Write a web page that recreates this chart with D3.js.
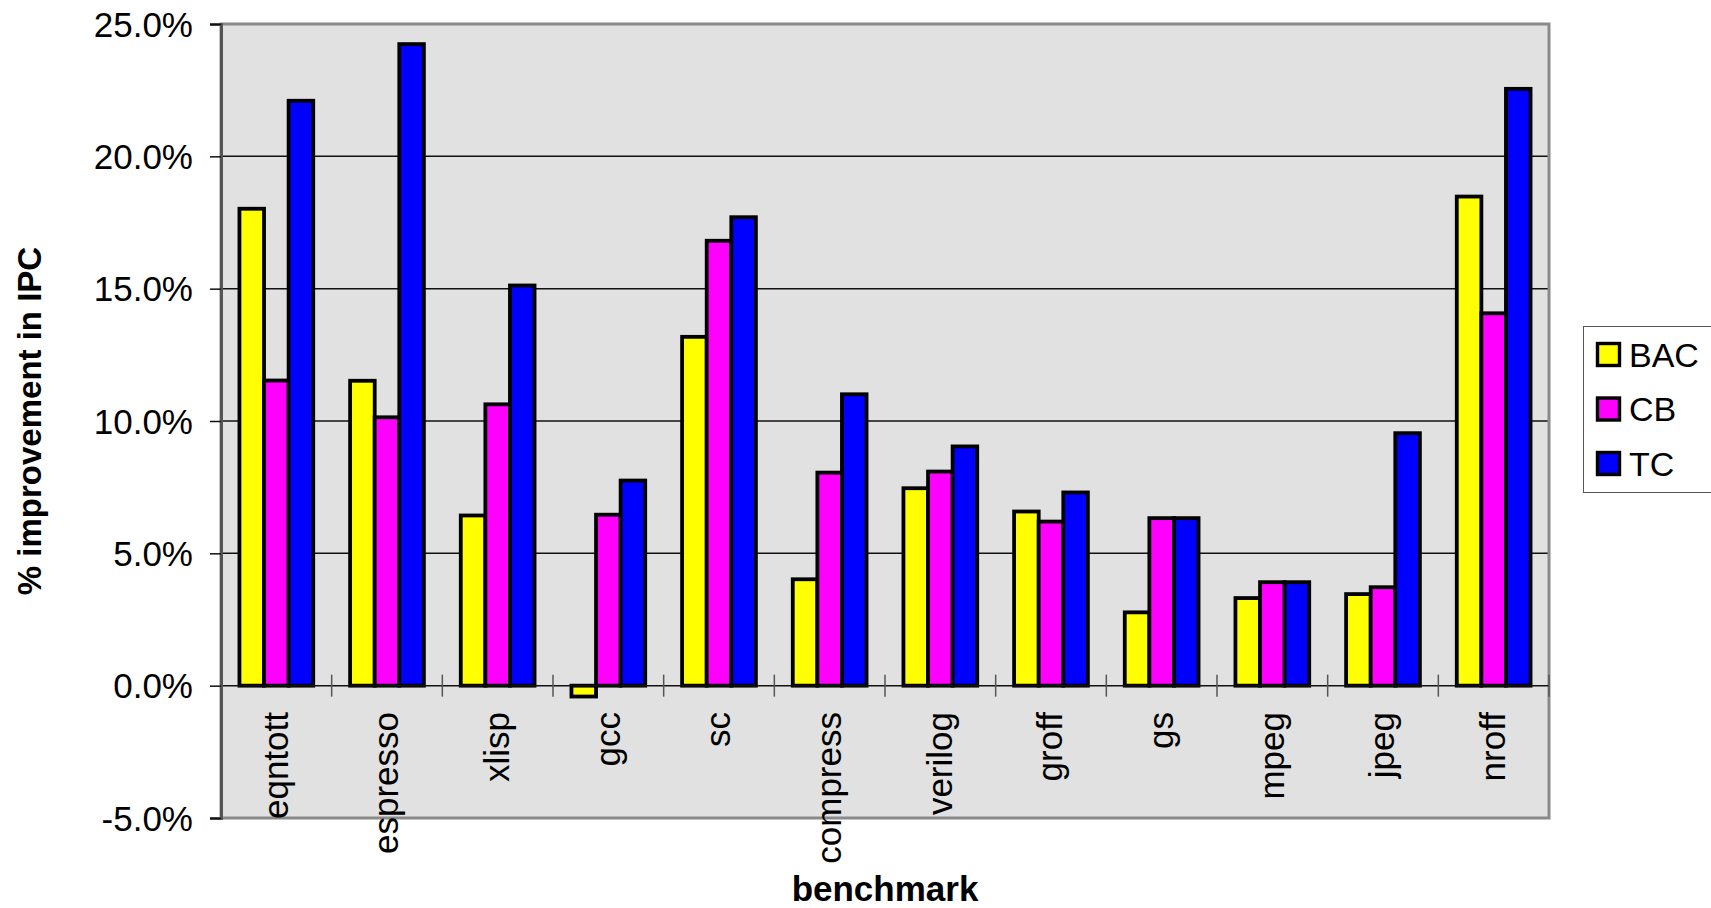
<!DOCTYPE html>
<html>
<head>
<meta charset="utf-8">
<script src="https://cdn.jsdelivr.net/npm/d3@7"></script>
<style>
  html, body { margin: 0; padding: 0; background: #fff; }
  svg { display: block; font-family: "Liberation Sans", Arial, sans-serif; }
</style>
</head>
<body>
<svg id="chart" width="1711" height="908"></svg>
<script>
// Benchmarks on the x axis
const categories = ["eqntott", "espresso", "xlisp", "gcc", "sc", "compress",
                    "verilog", "groff", "gs", "mpeg", "jpeg", "nroff"];

// % improvement in IPC per scheme
const seriesNames = ["BAC", "CB", "TC"];
const bacValues = [18.02, 11.52, 6.43, -0.41, 13.18, 4.02, 7.46, 6.58, 2.77, 3.31, 3.46, 18.48];
const cbValues  = [11.53, 10.14, 10.63, 6.46, 16.81, 8.05, 8.09, 6.20, 6.33, 3.91, 3.72, 14.07];
const tcValues  = [22.10, 24.24, 15.12, 7.75, 17.70, 11.01, 9.04, 7.30, 6.33, 3.91, 9.54, 22.55];

// Y axis ticks
const yTicks = [-5, 0, 5, 10, 15, 20, 25];

const seriesColors = ["#ffff00", "#ff00ff", "#0000ff"];
const seriesValues = [bacValues, cbValues, tcValues];

const svg = d3.select("#chart");
const plot = { left: 221, right: 1549, top: 24, bottom: 818 };

const x0 = d3.scaleBand().domain(categories).range([plot.left, plot.right]).padding(0);
const x1 = d3.scaleBand().domain(seriesNames).range([0, x0.bandwidth()])
  .paddingInner(0).paddingOuter(0.75);
const y = d3.scaleLinear().domain([-5, 25]).range([plot.bottom, plot.top]);

// Plot background
svg.append("rect")
  .attr("x", plot.left).attr("y", plot.top)
  .attr("width", plot.right - plot.left).attr("height", plot.bottom - plot.top)
  .attr("fill", "#e1e1e1");

// Horizontal gridlines
svg.append("g").selectAll("line")
  .data(yTicks.filter(d => d > -5 && d < 25 && d !== 0))
  .join("line")
  .attr("x1", plot.left).attr("x2", plot.right)
  .attr("y1", d => y(d)).attr("y2", d => y(d))
  .attr("stroke", "#111").attr("stroke-width", 1.5);

// Plot frame
svg.append("rect")
  .attr("x", plot.left).attr("y", plot.top)
  .attr("width", plot.right - plot.left).attr("height", plot.bottom - plot.top)
  .attr("fill", "none").attr("stroke", "#8a8a8a").attr("stroke-width", 3);

// Bars
const rows = categories.map((c, i) => ({ cat: c, vals: seriesNames.map((s, k) => ({ s, k, v: seriesValues[k][i] })) }));
svg.append("g").selectAll("g")
  .data(rows)
  .join("g")
  .attr("transform", d => `translate(${x0(d.cat)},0)`)
  .selectAll("rect")
  .data(d => d.vals)
  .join("rect")
  .attr("x", d => x1(d.s))
  .attr("width", x1.bandwidth())
  .attr("y", d => y(Math.max(0, d.v)))
  .attr("height", d => Math.abs(y(d.v) - y(0)))
  .attr("fill", d => seriesColors[d.k])
  .attr("stroke", "#000")
  .attr("stroke-width", 3.8);

// Zero line with category tick marks
svg.append("line")
  .attr("x1", plot.left).attr("x2", plot.right)
  .attr("y1", y(0)).attr("y2", y(0))
  .attr("stroke", "#111").attr("stroke-width", 1.5);
const catEdges = categories.map(c => x0(c)).concat([plot.right]);
svg.append("g").selectAll("line")
  .data(catEdges)
  .join("line")
  .attr("x1", d => d).attr("x2", d => d)
  .attr("y1", y(0) - 11).attr("y2", y(0) + 11)
  .attr("stroke", "#555").attr("stroke-width", 1.5);

// Y axis
const yAxis = svg.append("g")
  .attr("transform", `translate(${plot.left},0)`)
  .call(d3.axisLeft(y).tickValues(yTicks).tickFormat(d => d.toFixed(1) + "%")
    .tickSize(11).tickPadding(17));
yAxis.select(".domain").attr("stroke", "#555").attr("stroke-width", 3);
yAxis.selectAll(".tick line").attr("stroke", "#111").attr("stroke-width", 1.5);
yAxis.selectAll(".tick text")
  .attr("font-size", 35).attr("fill", "#000")
  .attr("font-family", "'Liberation Sans', Arial, sans-serif")
  .attr("dy", "0.35em");

// Category labels, rotated
svg.append("g").selectAll("text")
  .data(categories)
  .join("text")
  .attr("transform", d => `translate(${x0(d) + x0.bandwidth() / 2},712) rotate(-90)`)
  .attr("text-anchor", "end")
  .attr("dy", "0.32em")
  .attr("font-size", 35)
  .attr("fill", "#000")
  .text(d => d);

// Axis titles
svg.append("text")
  .attr("transform", `translate(41,${(plot.top + plot.bottom) / 2}) rotate(-90)`)
  .attr("text-anchor", "middle")
  .attr("font-size", 33).attr("font-weight", "bold")
  .text("% improvement in IPC");

svg.append("text")
  .attr("x", (plot.left + plot.right) / 2).attr("y", 901)
  .attr("text-anchor", "middle")
  .attr("font-size", 35).attr("font-weight", "bold")
  .text("benchmark");

// Legend
const legend = svg.append("g");
legend.append("rect")
  .attr("x", 1583.5).attr("y", 326.5).attr("width", 140).attr("height", 166)
  .attr("fill", "#fff").attr("stroke", "#555").attr("stroke-width", 1);
const items = legend.selectAll("g.item")
  .data(seriesNames)
  .join("g").attr("class", "item")
  .attr("transform", (d, i) => `translate(0,${355 + i * 54.5})`);
items.append("rect")
  .attr("x", 1597.5).attr("y", -11.5).attr("width", 22).attr("height", 22)
  .attr("fill", (d, i) => seriesColors[i])
  .attr("stroke", "#000").attr("stroke-width", 3.4);
items.append("text")
  .attr("x", 1629).attr("y", 0).attr("dy", "0.35em")
  .attr("font-size", 34)
  .text(d => d);
</script>
</body>
</html>
